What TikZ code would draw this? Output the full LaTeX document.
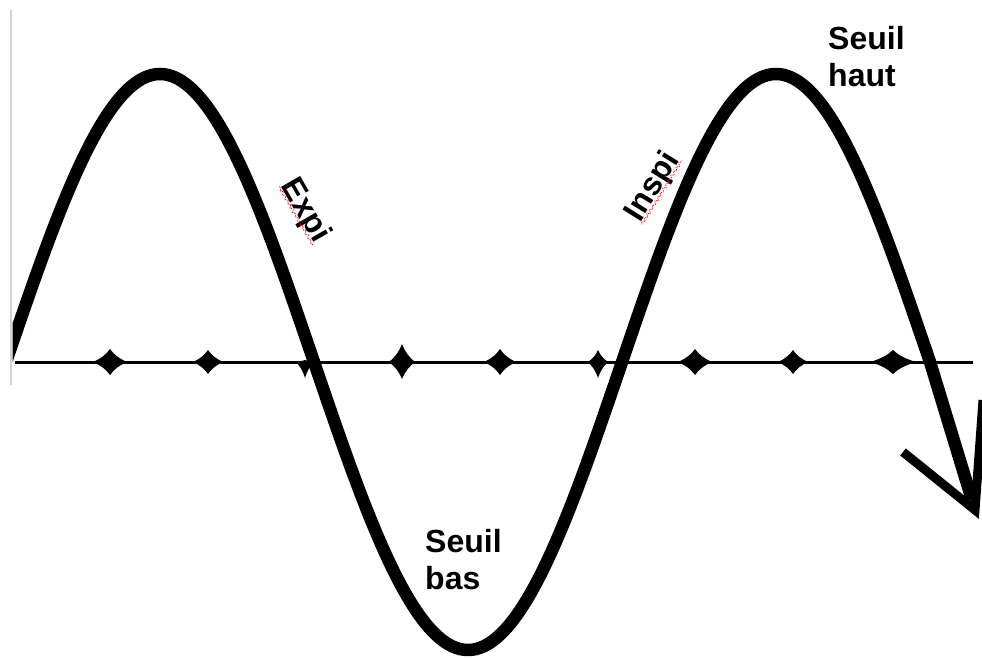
\documentclass[tikz,border=0pt]{standalone}
\usepackage{fontspec}
\setmainfont{Liberation Sans}
\usetikzlibrary{calc,decorations.pathmorphing}
\definecolor{edgegrey}{RGB}{205,212,222}
\newcommand{\sparkmark}[4]{%
  \fill ({#1-#2},362) .. controls ({#1-0.5*#2},{362-0.3*#3}) and ({#1-0.25*#2},{362-0.55*#3}) .. (#1,{362-#3})
    .. controls ({#1+0.25*#2},{362-0.55*#3}) and ({#1+0.5*#2},{362-0.3*#3}) .. ({#1+#2},362)
    .. controls ({#1+0.5*#2},{362+0.3*#4}) and ({#1+0.25*#2},{362+0.55*#4}) .. (#1,{362+#4})
    .. controls ({#1-0.25*#2},{362+0.55*#4}) and ({#1-0.5*#2},{362+0.3*#4}) .. cycle;}
\begin{document}
\begin{tikzpicture}[x=1pt,y=-1pt,
  wave/.style={line width=12.5pt, line cap=butt, line join=round},
  axisline/.style={line width=3pt},
  headline/.style={line width=9pt, line join=miter, line cap=butt},
  lbl/.style={font=\bfseries\fontsize{32}{37}\selectfont, align=left, inner sep=0pt, anchor=north west},
  rlbl/.style={font=\bfseries\fontsize{32}{38}\selectfont, inner sep=0pt},
  squig/.style={red, line width=0.9pt, densely dotted, decorate, decoration={snake, amplitude=1.2pt, segment length=5pt}}
]
\useasboundingbox (0,0) rectangle (982,658);
\fill[white] (0,0) rectangle (982,658);
% faint left edge
\draw[edgegrey, line width=1.5pt] (11,10) -- (11,385);
% axis
\draw[axisline] (15,362) -- (973,362);
\sparkmark{110}{17}{13}{13}
\sparkmark{208}{15}{12}{12}
\sparkmark{305}{9}{2}{16}
\sparkmark{402}{13}{18}{17}
\sparkmark{500}{16}{13}{13}
\sparkmark{598}{10}{12}{16}
\sparkmark{695}{17}{13}{13}
\sparkmark{793}{15}{12}{12}
\sparkmark{893}{23}{12}{12}
% wave
\coordinate (tip) at (975,510);
\coordinate (shaftend) at (972,500);
\coordinate (armL) at (903,452);
\coordinate (armR) at (983,400);
\begin{scope}
\clip (12.5,0) rectangle (982,658);
\draw[wave] plot[domain=-6:930, samples=300] (\x, {362 - 288*sin((\x-6)/308*180)}) -- (shaftend);
\end{scope}
\draw[headline] (armL) -- (tip) -- (armR);
% labels
\node[lbl] (haut) at (828,26) {Seuil\\haut};
\node[lbl] (bas) at (425,529) {Seuil\\bas};
\node[rlbl, rotate=-60] (expi) at (305,211) {Expi};
\node[rlbl, rotate=58] (inspi) at (653,187) {Inspi};
\draw[squig] ($(expi.base west)!2pt!-90:(expi.base east)$) -- ($(expi.base east)!2pt!90:(expi.base west)$);
\draw[squig] ($(inspi.base west)!2pt!-90:(inspi.base east)$) -- ($(inspi.base east)!2pt!90:(inspi.base west)$);
\end{tikzpicture}
\end{document}
